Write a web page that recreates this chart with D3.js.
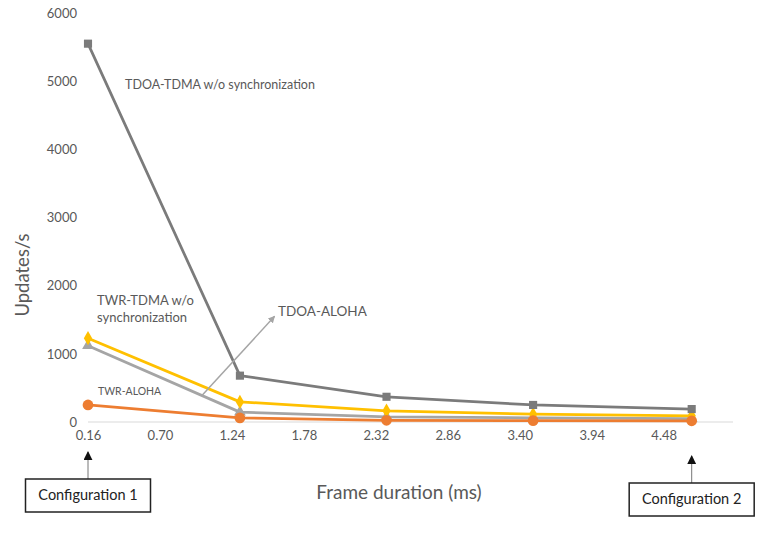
<!DOCTYPE html>
<html>
<head>
<meta charset="utf-8">
<script src="https://cdn.jsdelivr.net/npm/d3@7"></script>
<style>
  body { margin: 0; background: #fff; }
  svg text { font-family: Lato, "Open Sans", sans-serif; }
</style>
</head>
<body>
<div id="chart"></div>
<script>
const width = 763;
const height = 537;

/* ----------------------- data ----------------------- */
const frameDur = [0.16, 1.30, 2.40, 3.50, 4.69];
const xTicks = [0.16, 0.70, 1.24, 1.78, 2.32, 2.86, 3.40, 3.94, 4.48];
const yTicks = [0, 1000, 2000, 3000, 4000, 5000, 6000];

const tdoaTdma = [5550, 680, 370, 250, 190];
const twrTdma = [1230, 295, 165, 115, 90];
const tdoaAloha = [1120, 145, 75, 60, 50];
const twrAloha = [250, 60, 25, 20, 18];

const seriesNames = ["TDOA-TDMA w/o synchronization", "TWR-TDMA w/o synchronization", "TDOA-ALOHA", "TWR-ALOHA"];
const seriesColors = ["#7b7b7b", "#ffc000", "#a5a5a5", "#ed7d31"];
const seriesMarkers = ["square", "diamond", "triangle", "circle"];

const svg = d3.select("#chart")
  .append("svg")
    .attr("width", width)
    .attr("height", height);

/* ----------------------- scales ----------------------- */
const x = d3.scaleLinear().domain([0.16, 5.0]).range([88, 733]);
const y = d3.scaleLinear().domain([0, 6000]).range([422, 13]);

// zero gridline
svg.append("line")
  .attr("x1", x(0.16)).attr("x2", x(5.0))
  .attr("y1", y(0)).attr("y2", y(0))
  .attr("stroke", "#d9d9d9")
  .attr("stroke-width", 1);

// axes
const xAxis = svg.append("g")
  .attr("transform", `translate(0, ${y(0) + 6})`)
  .call(d3.axisBottom(x).tickValues(xTicks).tickSize(0).tickFormat(d3.format(".2f")));
xAxis.select(".domain").remove();
xAxis.selectAll("text")
  .attr("fill", "#595959")
  .style("font-size", "13px")
  .style("font-family", "Lato, sans-serif");

const yAxis = svg.append("g")
  .attr("transform", "translate(80, 0)")
  .call(d3.axisLeft(y).tickValues(yTicks).tickSize(0).tickFormat(d3.format("d")));
yAxis.select(".domain").remove();
yAxis.selectAll("text")
  .attr("fill", "#595959")
  .style("font-size", "13px")
  .style("font-family", "Lato, sans-serif");

// axis titles
svg.append("text")
  .attr("transform", "translate(29, 275) rotate(-90)")
  .attr("text-anchor", "middle")
  .attr("fill", "#595959")
  .style("font-size", "18.5px")
  .text("Updates/s");

svg.append("text")
  .attr("x", 399)
  .attr("y", 499)
  .attr("text-anchor", "middle")
  .attr("fill", "#595959")
  .style("font-size", "19px")
  .text("Frame duration (ms)");

/* ----------------------- lines ----------------------- */
const allSeries = [tdoaTdma, twrTdma, tdoaAloha, twrAloha];
const line = d3.line()
  .x((d, i) => x(frameDur[i]))
  .y(d => y(d));

// draw in back-to-front order (orange on top like excel)
const drawOrder = [2, 1, 0, 3];
drawOrder.forEach(function(k) {
  const vals = allSeries[k];
  const g = svg.append("g").attr("class", "series");
  g.append("path")
    .datum(vals)
    .attr("d", line)
    .attr("fill", "none")
    .attr("stroke", seriesColors[k])
    .attr("stroke-width", 2.75)
    .attr("stroke-linejoin", "round");

  const symType = {
    square: d3.symbolSquare,
    diamond: d3.symbolDiamond,
    triangle: d3.symbolTriangle,
    circle: d3.symbolCircle
  }[seriesMarkers[k]];
  const symSize = { square: 66, diamond: 60, triangle: 60, circle: 90 }[seriesMarkers[k]];

  g.selectAll(".marker")
    .data(vals)
    .join("path")
      .attr("class", "marker")
      .attr("d", d3.symbol().type(symType).size(symSize))
      .attr("transform", (d, i) => `translate(${x(frameDur[i])}, ${y(d)})`)
      .attr("fill", seriesColors[k]);
});

/* ----------------------- annotations ----------------------- */
svg.append("defs").append("marker")
    .attr("id", "arrowGray")
    .attr("viewBox", "0 0 10 10")
    .attr("refX", 9).attr("refY", 5)
    .attr("markerWidth", 7).attr("markerHeight", 7)
    .attr("markerUnits", "userSpaceOnUse")
    .attr("orient", "auto")
  .append("path")
    .attr("d", "M0,0 L10,5 L0,10 z")
    .attr("fill", "#a5a5a5");

svg.select("defs").append("marker")
    .attr("id", "arrowBlack")
    .attr("viewBox", "0 0 10 10")
    .attr("refX", 9).attr("refY", 5)
    .attr("markerWidth", 9).attr("markerHeight", 9)
    .attr("markerUnits", "userSpaceOnUse")
    .attr("orient", "auto")
  .append("path")
    .attr("d", "M0,0 L10,5 L0,10 z")
    .attr("fill", "#111");

// series labels
svg.append("text")
  .attr("x", 125).attr("y", y(4885))
  .attr("fill", "#595959")
  .style("font-size", "12.5px")
  .text(seriesNames[0]);

svg.append("text")
  .attr("x", 97).attr("y", y(1710))
  .attr("fill", "#595959")
  .style("font-size", "13px")
  .text("TWR-TDMA w/o");
svg.append("text")
  .attr("x", 97).attr("y", y(1460))
  .attr("fill", "#595959")
  .style("font-size", "13px")
  .text("synchronization");

svg.append("text")
  .attr("x", 278).attr("y", y(1560))
  .attr("fill", "#595959")
  .style("font-size", "13.5px")
  .text(seriesNames[2]);

svg.append("text")
  .attr("x", 98).attr("y", y(400))
  .attr("fill", "#595959")
  .style("font-size", "10.5px")
  .text(seriesNames[3]);

// TDOA-ALOHA pointer arrow
svg.append("line")
  .attr("x1", x(1.015)).attr("y1", y(390))
  .attr("x2", x(1.56)).attr("y2", y(1550))
  .attr("stroke", "#a5a5a5")
  .attr("stroke-width", 1.5)
  .attr("marker-end", "url(#arrowGray)");

// configuration callouts
const configs = [
  { name: "Configuration 1", at: frameDur[0], boxY: 479, boxW: 125 },
  { name: "Configuration 2", at: frameDur[4], boxY: 483, boxW: 125 }
];
configs.forEach(function(c) {
  const cx = x(c.at);
  svg.append("line")
    .attr("x1", cx).attr("x2", cx)
    .attr("y1", c.boxY).attr("y2", c.boxY - 27)
    .attr("stroke", "#777")
    .attr("stroke-width", 1)
    .attr("marker-end", "url(#arrowBlack)");
  svg.append("rect")
    .attr("x", cx - c.boxW / 2)
    .attr("y", c.boxY)
    .attr("width", c.boxW)
    .attr("height", 33)
    .attr("fill", "#fff")
    .attr("stroke", "#222")
    .attr("stroke-width", 1.5);
  svg.append("text")
    .attr("x", cx)
    .attr("y", c.boxY + 21)
    .attr("text-anchor", "middle")
    .attr("fill", "#222")
    .style("font-size", "14.5px")
    .text(c.name);
});
</script>
</body>
</html>
